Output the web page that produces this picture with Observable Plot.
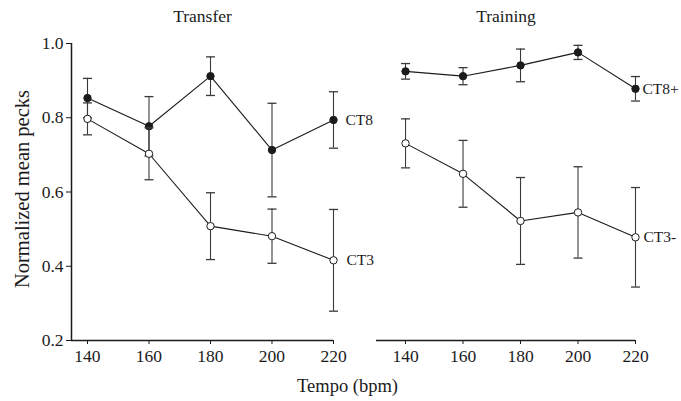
<!DOCTYPE html>
<html>
<head>
<meta charset="utf-8">
<script src="https://cdn.jsdelivr.net/npm/d3@7"></script>
<script src="https://cdn.jsdelivr.net/npm/@observablehq/plot@0.6"></script>
<style>
  html, body { margin: 0; padding: 0; background: #fff; }
  #chart { position: relative; width: 681px; height: 401px; background: #fff; }
  #chart svg { position: absolute; top: 0; }
</style>
</head>
<body>
<div id="chart"></div>
<script>
// Tempo conditions (beats per minute)
const tempo = [140, 160, 180, 200, 220];
const yTicks = [0.2, 0.4, 0.6, 0.8, 1.0];

// Transfer: normalized mean pecks and error (±)
const transferCT8 = [0.853, 0.777, 0.912, 0.713, 0.794];
const transferCT8Err = [0.053, 0.080, 0.052, 0.126, 0.076];
const transferCT3 = [0.797, 0.703, 0.508, 0.481, 0.416];
const transferCT3Err = [0.043, 0.070, 0.090, 0.073, 0.137];

// Training: normalized mean pecks and error (±)
const trainingCT8 = [0.925, 0.912, 0.941, 0.976, 0.878];
const trainingCT8Err = [0.021, 0.023, 0.044, 0.019, 0.033];
const trainingCT3 = [0.731, 0.649, 0.522, 0.545, 0.478];
const trainingCT3Err = [0.066, 0.090, 0.117, 0.123, 0.134];

const font = "'Liberation Serif', 'Times New Roman', serif";
const ink = "#1b1b1b";

const rows = (values, errs, series, filled) =>
  tempo.map((t, i) => ({tempo: t, value: values[i], err: errs[i], series, filled}));

// horizontal cap for the error bars
const cap = {
  draw(context, size) {
    const r = Math.sqrt(size / Math.PI);
    context.moveTo(-r, 0);
    context.lineTo(r, 0);
  }
};

function seriesMarks(data, label, labelDx) {
  const filled = data[0].filled;
  const last = data[data.length - 1];
  return [
    Plot.ruleX(data, {x: "tempo", y1: d => d.value - d.err, y2: d => d.value + d.err, stroke: "#3a3a3a", strokeWidth: 1.1}),
    Plot.dot(data, {x: "tempo", y: d => d.value - d.err, symbol: cap, r: 4.5, stroke: "#3a3a3a", strokeWidth: 1.3, fill: "none"}),
    Plot.dot(data, {x: "tempo", y: d => d.value + d.err, symbol: cap, r: 4.5, stroke: "#3a3a3a", strokeWidth: 1.3, fill: "none"}),
    Plot.line(data, {x: "tempo", y: "value", stroke: ink, strokeWidth: 1.1}),
    Plot.dot(data, {x: "tempo", y: "value", r: 3.7, fill: filled ? ink : "white", stroke: ink, strokeWidth: 1}),
    Plot.text([last], {x: "tempo", y: "value", text: () => label, dx: labelDx, textAnchor: "start", lineAnchor: "middle", fontSize: 15.5, fill: ink})
  ];
}

const common = {
  height: 401,
  marginTop: 43,
  marginBottom: 61,
  y: {domain: [0.2, 1.0], ticks: yTicks, tickFormat: ".1f", tickSize: 5, tickPadding: 3, label: null},
  style: {background: "transparent", fontFamily: font, fontSize: "17.5px", color: ink, overflow: "visible"}
};

// Left panel: transfer
const left = Plot.plot({
  ...common,
  width: 400,
  marginLeft: 71,
  marginRight: 67,
  x: {domain: [134.8, 220], ticks: tempo, tickFormat: d3.format("d"), tickSize: 4, tickPadding: 5, label: null},
  marks: [
    Plot.ruleX([134.8], {stroke: ink, strokeWidth: 1.5}),
    Plot.ruleY([0.2], {stroke: ink, strokeWidth: 1.5}),
    ...seriesMarks(rows(transferCT8, transferCT8Err, "CT8", true), "CT8", 12),
    ...seriesMarks(rows(transferCT3, transferCT3Err, "CT3", false), "CT3", 13),
    Plot.text(["Transfer"], {frameAnchor: "top", dy: -27, lineAnchor: "middle", fontSize: 17.5, fill: ink}),
    Plot.text(["Normalized mean pecks"], {frameAnchor: "left", textAnchor: "middle", dx: -49, dy: -3, rotate: -90, lineAnchor: "middle", fontSize: 20.5, fill: ink}),
    Plot.text(["Tempo (bpm)"], {frameAnchor: "bottom", textAnchor: "middle", dx: 145, dy: 46, lineAnchor: "middle", fontSize: 18.5, fill: ink})
  ]
});
left.style.left = "0px";

// Right panel: training (no y axis)
const right = Plot.plot({
  ...common,
  width: 341,
  marginLeft: 36,
  marginRight: 46,
  y: {...common.y, axis: null},
  x: {domain: [129.9, 220], ticks: tempo, tickFormat: d3.format("d"), tickSize: 4, tickPadding: 5, label: null},
  marks: [
    Plot.ruleY([0.2], {stroke: ink, strokeWidth: 1.5}),
    ...seriesMarks(rows(trainingCT8, trainingCT8Err, "CT8+", true), "CT8+", 7),
    ...seriesMarks(rows(trainingCT3, trainingCT3Err, "CT3-", false), "CT3-", 8),
    Plot.text(["Training"], {frameAnchor: "top", dy: -27, lineAnchor: "middle", fontSize: 17.5, fill: ink})
  ]
});
right.style.left = "340px";

const chart = document.getElementById("chart");
chart.append(left, right);
</script>
</body>
</html>
